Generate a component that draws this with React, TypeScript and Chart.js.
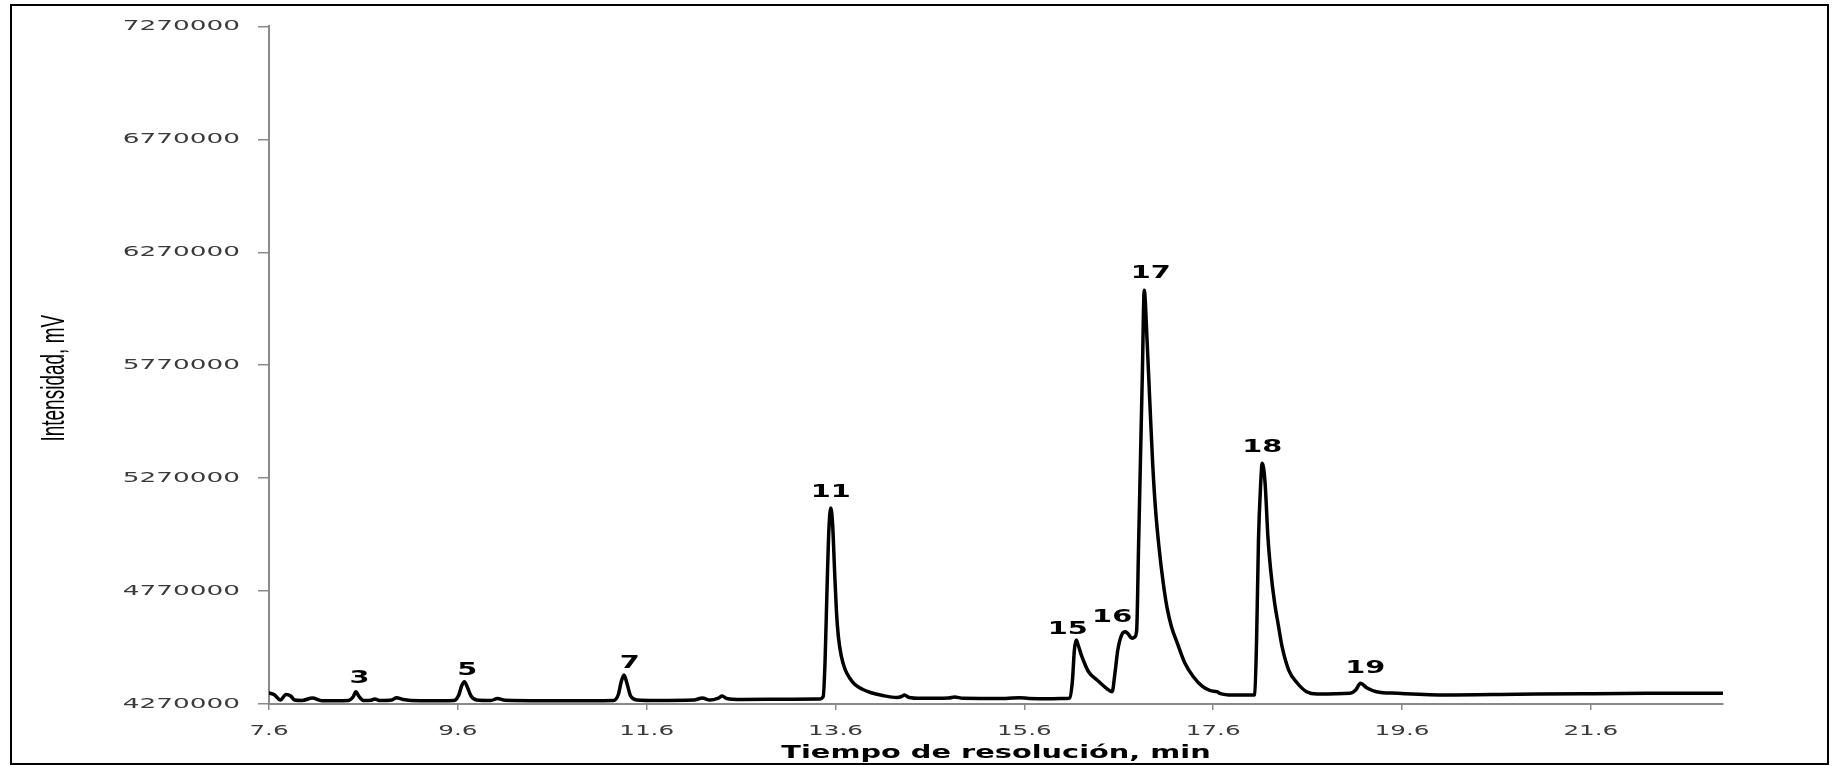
import React, { useEffect, useRef } from 'react';
import { Chart, registerables } from 'chart.js';

Chart.register(...registerables);

// ---- Data ----
const retentionTime: number[] = [
  7.6, 7.66, 7.72, 7.78, 7.83, 7.87, 7.95, 8.06, 8.16, 8.3, 8.44, 8.49, 8.52, 8.55, 8.6, 8.68, 8.72, 8.78,
  8.9, 8.95, 9.02, 9.2, 9.4, 9.56, 9.61, 9.64, 9.67, 9.7, 9.74, 9.8, 9.95, 10.02, 10.1, 10.5, 11.0, 11.25,
  11.3, 11.33, 11.36, 11.39, 11.43, 11.5, 11.7, 12.1, 12.19, 12.27, 12.36, 12.4, 12.45, 12.6, 13.0, 13.4,
  13.43, 13.47, 13.49, 13.51, 13.53, 13.55, 13.57, 13.59, 13.61, 13.63, 13.66, 13.7, 13.75, 13.8, 13.88,
  13.97, 14.1, 14.25, 14.3, 14.33, 14.38, 14.5, 14.8, 14.86, 14.95, 15.4, 15.55, 15.65, 15.9, 16.05, 16.08,
  16.11, 16.13, 16.15, 16.17, 16.21, 16.28, 16.37, 16.47, 16.53, 16.56, 16.59, 16.63, 16.67, 16.7, 16.74,
  16.77, 16.79, 16.81, 16.83, 16.85, 16.87, 16.9, 16.93, 16.96, 16.99, 17.03, 17.07, 17.11, 17.16,
  17.22, 17.3, 17.39, 17.49, 17.57, 17.64, 17.67, 17.81, 18.02, 18.04, 18.06, 18.08, 18.1, 18.12, 18.15,
  18.18, 18.21, 18.25, 18.29, 18.33, 18.4, 18.49, 18.59, 18.7, 19.05, 19.11, 19.16, 19.23, 19.33, 19.55,
  20.04, 20.82, 21.52, 22.23, 23.0,
];

const intensity: number[] = [
  4318700, 4309800, 4287700, 4312000, 4305400, 4287700, 4285500, 4296500, 4284600, 4284600, 4285500, 4301000,
  4324400, 4305400, 4285500, 4286400, 4292100, 4285500, 4287700, 4297900, 4289900, 4284600, 4284600, 4285500,
  4309800, 4349600, 4368700, 4345200, 4305400, 4287700, 4285500, 4294300, 4286400, 4284600, 4284600, 4285500,
  4312000, 4367300, 4398300, 4362900, 4305400, 4287700, 4285500, 4287700, 4296500, 4287700, 4296500, 4305400,
  4294300, 4289900, 4290800, 4292100,
  4292100, 4303200, 4464700, 4774400, 5039900, 5137300, 5062000, 4862900, 4680000, 4570000, 4485000, 4425000,
  4385000, 4358500, 4336400, 4320900, 4307600, 4298800, 4303200, 4309800, 4298800, 4295200, 4296500, 4301000,
  4295200, 4294300, 4297900, 4294300, 4293500, 4294300, 4296500,
  4376200, 4508900, 4553200, 4531100, 4479300, 4412900, 4376200, 4339500, 4324400, 4407200, 4508900, 4575300,
  4589900, 4579700, 4560700, 4566500, 4597400, 4970000, 5350000, 5730000, 6101900, 5880600, 5600000,
  5330000, 5130000, 4950000, 4810000, 4700000, 4610000,
  4539900, 4451400, 4390800, 4346500, 4328900, 4324400, 4317300, 4309800, 4309800, 4312000, 4553200, 4995700,
  5216900, 5336400, 5247900, 5010000, 4860000, 4720000, 4620000, 4523500, 4420400, 4362900, 4324400, 4314200,
  4317300, 4331900, 4361600, 4340800, 4324400, 4317300, 4309800, 4312900, 4315600, 4317300, 4317300,
];

const xTickValues: number[] = [7.6, 9.6, 11.6, 13.6, 15.6, 17.6, 19.6, 21.6];
const yTickValues: number[] = [4270000, 4770000, 5270000, 5770000, 6270000, 6770000, 7270000];

const peakNames: string[] = ['3', '5', '7', '11', '15', '16', '17', '18', '19'];
const peakLabelX: number[] = [8.56, 9.7, 11.42, 13.55, 16.06, 16.53, 16.94, 18.12, 19.21];
const peakLabelY: number[] = [4385000, 4420400, 4451400, 5208100, 4602700, 4655000, 6177100, 5405000, 4429300];

const xTitle = 'Tiempo de resolución, min';
const yTitle = 'Intensidad, mV';

// ---- Styling ----
const AXIS_COLOR = '#8a8a8a';
const TICK_COLOR = '#3a3a3a';
const FAMILY = "'DejaVu Sans', Verdana, sans-serif";

// The reference image is horizontally stretched; reproduce by stretching text glyphs.
const TEXT_STRETCH: Record<string, { sx: number; sy: number; dx: number }> = {
  '14': { sx: 1.88, sy: 1, dx: 0 }, // y tick labels
  '14.5': { sx: 1.7, sy: 1, dx: 0 }, // x tick labels
  '18': { sx: 1.6, sy: 1, dx: 0 }, // x title + peak labels
  '19': { sx: 1, sy: 1.7, dx: -13 }, // rotated y title
};

const stretchTextPlugin = {
  id: 'stretchText',
  beforeDraw(chart: any) {
    const ctx: any = chart.ctx;
    if (ctx.__stretched) return;
    ctx.__stretched = true;
    const orig = CanvasRenderingContext2D.prototype.fillText;
    ctx.fillText = function (text: string, x: number, y: number) {
      const m = /([\d.]+)px/.exec(this.font);
      const s = m ? TEXT_STRETCH[m[1]] : undefined;
      if (!s) {
        orig.call(this, text, x, y);
        return;
      }
      this.save();
      this.translate(x + s.dx, y);
      this.scale(s.sx, s.sy);
      orig.call(this, text, 0, 0);
      this.restore();
    };
  },
};

const peakLabelPlugin = {
  id: 'peakLabels',
  afterDatasetsDraw(chart: any) {
    const { ctx, scales } = chart;
    ctx.save();
    ctx.font = `bold 18px ${FAMILY}`;
    ctx.fillStyle = '#000';
    ctx.textAlign = 'center';
    ctx.textBaseline = 'middle';
    peakNames.forEach((name, i) => {
      ctx.fillText(name, scales.x.getPixelForValue(peakLabelX[i]), scales.y.getPixelForValue(peakLabelY[i]));
    });
    ctx.restore();
  },
};

export default function App() {
  const canvasRef = useRef<HTMLCanvasElement | null>(null);

  useEffect(() => {
    const canvas = canvasRef.current;
    if (!canvas) return;
    const points = retentionTime.map((t, i) => ({ x: t, y: intensity[i] }));

    const chart = new Chart(canvas, {
      type: 'line',
      data: {
        datasets: [
          {
            data: points,
            borderColor: '#000',
            borderWidth: 3.5,
            pointRadius: 0,
            fill: false,
            cubicInterpolationMode: 'monotone',
            borderJoinStyle: 'round',
            borderCapStyle: 'round',
          } as any,
        ],
      },
      options: {
        responsive: false,
        animation: false,
        devicePixelRatio: 1,
        layout: { padding: { top: 26, right: 110, bottom: 0, left: 0 } },
        plugins: {
          legend: { display: false },
          tooltip: { enabled: false },
          title: { display: false },
        },
        elements: { point: { radius: 0 } },
        scales: {
          x: {
            type: 'linear',
            min: 7.6,
            max: 23.0,
            afterBuildTicks: (s: any) => {
              s.ticks = xTickValues.map((v) => ({ value: v }));
            },
            afterFit: (s: any) => {
              s.height = 61;
            },
            grid: { drawOnChartArea: false, drawTicks: true, tickLength: 6, color: AXIS_COLOR, lineWidth: 1.5 },
            border: { display: true, color: AXIS_COLOR, width: 2 },
            ticks: {
              autoSkip: false,
              maxRotation: 0,
              padding: 13,
              color: TICK_COLOR,
              font: { family: FAMILY, size: 14.5 },
              callback: (v: any) => Number(v).toFixed(1),
            },
            title: {
              display: true,
              text: xTitle,
              color: '#000',
              font: { family: FAMILY, size: 18, weight: 'bold' },
              padding: { top: 0, bottom: 1 },
            },
          },
          y: {
            type: 'linear',
            min: 4270000,
            max: 7270000,
            afterBuildTicks: (s: any) => {
              s.ticks = yTickValues.map((v) => ({ value: v }));
            },
            afterFit: (s: any) => {
              s.width = 269;
            },
            grid: { drawOnChartArea: false, drawTicks: true, tickLength: 11, color: AXIS_COLOR, lineWidth: 1.5 },
            border: { display: true, color: AXIS_COLOR, width: 2 },
            ticks: {
              autoSkip: false,
              padding: 18,
              color: TICK_COLOR,
              font: { family: FAMILY, size: 14 },
              callback: (v: any) => String(v),
            },
            title: {
              display: true,
              text: yTitle,
              color: '#000',
              font: { family: "'Liberation Sans', Arial, sans-serif", size: 19 },
              padding: { top: 44, bottom: 0 },
            },
          },
        },
      } as any,
      plugins: [stretchTextPlugin, peakLabelPlugin],
    });

    return () => chart.destroy();
  }, []);

  return (
    <div
      style={{
        position: 'fixed',
        left: 0,
        top: 0,
        width: 1833,
        height: 765,
        background: '#fff',
        overflow: 'hidden',
      }}
    >
      <canvas
        ref={canvasRef}
        width={1833}
        height={765}
        style={{ position: 'absolute', left: 0, top: 0, width: 1833, height: 765, display: 'block' }}
      />
      <div
        style={{
          position: 'absolute',
          left: 10,
          top: 4,
          width: 1819,
          height: 761,
          border: '2.5px solid #000',
          boxSizing: 'border-box',
          pointerEvents: 'none',
        }}
      />
    </div>
  );
}
